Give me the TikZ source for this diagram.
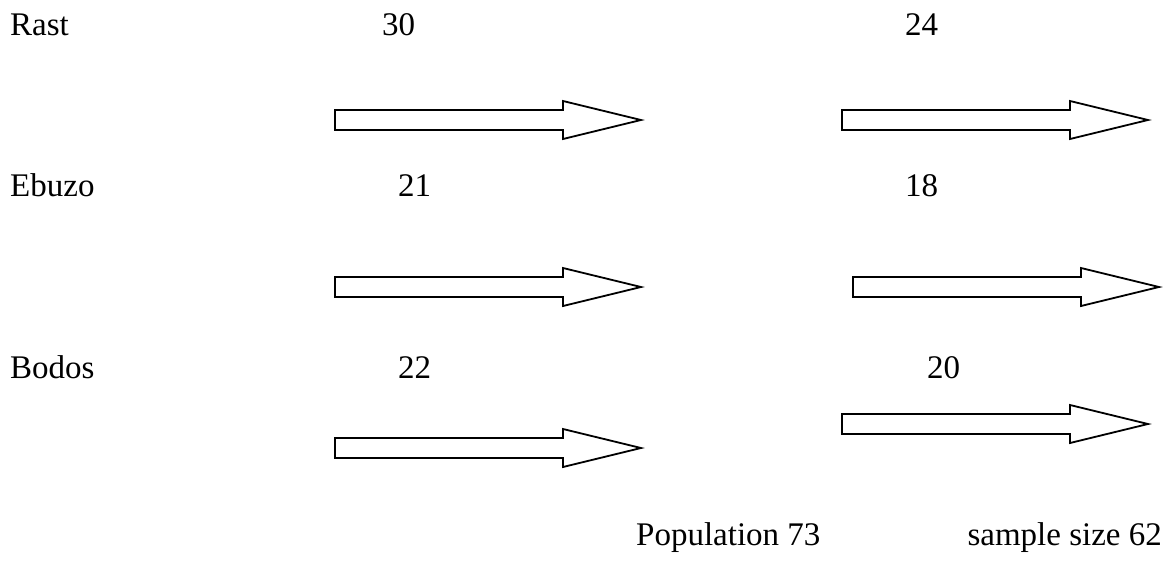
\documentclass[tikz,border=0pt]{standalone}
\usepackage{fontspec}
\setmainfont{Liberation Serif}
\begin{document}
\begin{tikzpicture}[x=1pt,y=-1pt,
  lbl/.style={anchor=base west,inner sep=0pt,font=\fontsize{33}{39}\selectfont},
  arrowline/.style={draw=black,line width=1.8pt,fill=white,line join=miter},
  blockarrow/.pic={
    \draw[arrowline] (0,-10) -- (228,-10) -- (228,-19) -- (306,0)
      -- (228,19) -- (228,10) -- (0,10) -- cycle;
  }]
\useasboundingbox (0,0) rectangle (1165,560);

% row labels and counts
\node[lbl] (rast)  at (10,35)  {Rast};
\node[lbl] (ebuzo) at (10,196) {Ebuzo};
\node[lbl] (bodos) at (10,378) {Bodos};

\node[lbl] (popr) at (382,35)  {30};
\node[lbl] (pope) at (398,196) {21};
\node[lbl] (popb) at (398,378) {22};

\node[lbl] (smpr) at (905,35)  {24};
\node[lbl] (smpe) at (905,196) {18};
\node[lbl] (smpb) at (927,378) {20};

% block arrows
\pic at (335,120) {blockarrow};
\pic at (842,120) {blockarrow};
\pic at (335,287) {blockarrow};
\pic at (853,287) {blockarrow};
\pic at (335,448) {blockarrow};
\pic at (842,424) {blockarrow};

% totals
\node[lbl] (poptot) at (636,545) {Population 73};
\node[lbl,anchor=base east] (smptot) at (1162,545) {sample size 62};
\end{tikzpicture}
\end{document}
